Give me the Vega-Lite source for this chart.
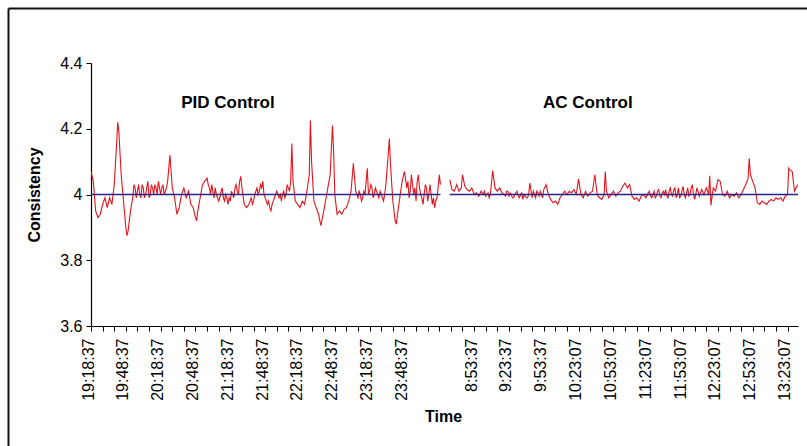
{
  "$schema": "https://vega.github.io/schema/vega-lite/v6.json",
  "width": 707,
  "height": 263,
  "autosize": {"type": "none"},
  "padding": {"left": 91, "top": 63, "right": 9, "bottom": 120},
  "background": "white",
  "config": {
    "view": {"stroke": null},
    "font": "Liberation Sans",
    "axis": {"domainColor": "#000", "tickColor": "#000", "labelColor": "#000", "titleColor": "#000", "grid": false, "labelFont": "Liberation Sans", "titleFont": "Liberation Sans"}
  },
  "datasets": {
    "series": [
      {"s":"PID","i":0,"v":4.07},{"s":"PID","i":2,"v":4.04},{"s":"PID","i":4,"v":3.95},{"s":"PID","i":6,"v":3.93},{"s":"PID","i":8,"v":3.94},{"s":"PID","i":10,"v":3.97},{"s":"PID","i":12,"v":3.99},{"s":"PID","i":14,"v":3.96},{"s":"PID","i":16,"v":3.99},{"s":"PID","i":18,"v":3.97},{"s":"PID","i":20,"v":4.03},{"s":"PID","i":22,"v":4.15},{"s":"PID","i":23,"v":4.22},{"s":"PID","i":24,"v":4.19},{"s":"PID","i":26,"v":4.06},{"s":"PID","i":28,"v":3.98},{"s":"PID","i":30,"v":3.9},{"s":"PID","i":31,"v":3.875},{"s":"PID","i":32,"v":3.89},{"s":"PID","i":34,"v":3.95},{"s":"PID","i":36,"v":3.99},{"s":"PID","i":38,"v":4.02},{"s":"PID","i":40,"v":4.01},{"s":"PID","i":42,"v":4.0},{"s":"PID","i":44,"v":4.03},{"s":"PID","i":46,"v":3.99},{"s":"PID","i":48,"v":4.02},{"s":"PID","i":50,"v":3.99},{"s":"PID","i":52,"v":4.03},{"s":"PID","i":54,"v":4.0},{"s":"PID","i":56,"v":4.02},{"s":"PID","i":58,"v":4.04},{"s":"PID","i":60,"v":4.0},{"s":"PID","i":62,"v":4.03},{"s":"PID","i":64,"v":4.01},{"s":"PID","i":66,"v":4.04},{"s":"PID","i":68,"v":4.12},{"s":"PID","i":70,"v":4.02},{"s":"PID","i":72,"v":3.99},{"s":"PID","i":74,"v":3.94},{"s":"PID","i":76,"v":3.96},{"s":"PID","i":78,"v":4.0},{"s":"PID","i":80,"v":4.02},{"s":"PID","i":82,"v":3.99},{"s":"PID","i":84,"v":4.01},{"s":"PID","i":86,"v":3.97},{"s":"PID","i":88,"v":3.96},{"s":"PID","i":90,"v":3.93},{"s":"PID","i":91,"v":3.92},{"s":"PID","i":92,"v":3.95},{"s":"PID","i":94,"v":3.99},{"s":"PID","i":96,"v":4.03},{"s":"PID","i":98,"v":4.04},{"s":"PID","i":100,"v":4.05},{"s":"PID","i":102,"v":4.02},{"s":"PID","i":104,"v":4.03},{"s":"PID","i":106,"v":3.99},{"s":"PID","i":108,"v":4.0},{"s":"PID","i":110,"v":3.98},{"s":"PID","i":112,"v":4.01},{"s":"PID","i":114,"v":3.99},{"s":"PID","i":116,"v":4.0},{"s":"PID","i":118,"v":3.97},{"s":"PID","i":120,"v":3.98},{"s":"PID","i":122,"v":4.0},{"s":"PID","i":124,"v":4.02},{"s":"PID","i":126,"v":4.01},{"s":"PID","i":128,"v":4.04},{"s":"PID","i":129,"v":4.055},{"s":"PID","i":130,"v":4.02},{"s":"PID","i":132,"v":3.97},{"s":"PID","i":134,"v":3.96},{"s":"PID","i":136,"v":3.97},{"s":"PID","i":138,"v":3.99},{"s":"PID","i":140,"v":3.98},{"s":"PID","i":142,"v":4.01},{"s":"PID","i":144,"v":4.0},{"s":"PID","i":146,"v":4.03},{"s":"PID","i":148,"v":4.04},{"s":"PID","i":150,"v":3.99},{"s":"PID","i":152,"v":3.97},{"s":"PID","i":154,"v":3.96},{"s":"PID","i":156,"v":3.97},{"s":"PID","i":158,"v":3.99},{"s":"PID","i":160,"v":4.01},{"s":"PID","i":162,"v":3.99},{"s":"PID","i":164,"v":3.98},{"s":"PID","i":166,"v":4.01},{"s":"PID","i":168,"v":4.0},{"s":"PID","i":170,"v":4.02},{"s":"PID","i":172,"v":4.04},{"s":"PID","i":173,"v":4.155},{"s":"PID","i":174,"v":4.04},{"s":"PID","i":176,"v":3.98},{"s":"PID","i":178,"v":3.97},{"s":"PID","i":180,"v":3.96},{"s":"PID","i":182,"v":3.98},{"s":"PID","i":184,"v":3.97},{"s":"PID","i":186,"v":4.01},{"s":"PID","i":188,"v":4.06},{"s":"PID","i":189,"v":4.225},{"s":"PID","i":190,"v":4.1},{"s":"PID","i":192,"v":3.98},{"s":"PID","i":194,"v":3.96},{"s":"PID","i":196,"v":3.94},{"s":"PID","i":198,"v":3.905},{"s":"PID","i":200,"v":3.94},{"s":"PID","i":202,"v":3.98},{"s":"PID","i":204,"v":4.02},{"s":"PID","i":206,"v":4.06},{"s":"PID","i":208,"v":4.21},{"s":"PID","i":209,"v":4.13},{"s":"PID","i":210,"v":4.0},{"s":"PID","i":212,"v":3.94},{"s":"PID","i":214,"v":3.95},{"s":"PID","i":216,"v":3.94},{"s":"PID","i":218,"v":3.955},{"s":"PID","i":220,"v":3.96},{"s":"PID","i":222,"v":3.98},{"s":"PID","i":224,"v":4.01},{"s":"PID","i":226,"v":4.095},{"s":"PID","i":228,"v":4.01},{"s":"PID","i":230,"v":3.99},{"s":"PID","i":232,"v":4.0},{"s":"PID","i":234,"v":3.99},{"s":"PID","i":236,"v":4.0},{"s":"PID","i":238,"v":4.08},{"s":"PID","i":240,"v":4.01},{"s":"PID","i":242,"v":4.02},{"s":"PID","i":244,"v":4.0},{"s":"PID","i":246,"v":4.01},{"s":"PID","i":248,"v":3.99},{"s":"PID","i":250,"v":4.0},{"s":"PID","i":252,"v":3.98},{"s":"PID","i":254,"v":4.03},{"s":"PID","i":256,"v":4.12},{"s":"PID","i":257,"v":4.17},{"s":"PID","i":258,"v":4.09},{"s":"PID","i":260,"v":3.98},{"s":"PID","i":262,"v":3.92},{"s":"PID","i":263,"v":3.91},{"s":"PID","i":264,"v":3.94},{"s":"PID","i":266,"v":3.99},{"s":"PID","i":268,"v":4.04},{"s":"PID","i":270,"v":4.07},{"s":"PID","i":272,"v":4.02},{"s":"PID","i":274,"v":3.99},{"s":"PID","i":276,"v":4.06},{"s":"PID","i":278,"v":4.0},{"s":"PID","i":280,"v":3.98},{"s":"PID","i":282,"v":4.06},{"s":"PID","i":284,"v":4.0},{"s":"PID","i":286,"v":3.97},{"s":"PID","i":288,"v":4.03},{"s":"PID","i":290,"v":3.98},{"s":"PID","i":292,"v":4.03},{"s":"PID","i":294,"v":3.97},{"s":"PID","i":296,"v":3.96},{"s":"PID","i":298,"v":3.99},{"s":"PID","i":300,"v":4.06},{"s":"PID","i":301,"v":4.03},
      {"s":"PID","i":37,"v":4.03},{"s":"PID","i":39,"v":3.99},{"s":"PID","i":41,"v":4.03},{"s":"PID","i":43,"v":3.99},{"s":"PID","i":45,"v":4.02},{"s":"PID","i":47,"v":4.0},{"s":"PID","i":49,"v":4.04},{"s":"PID","i":51,"v":4.0},{"s":"PID","i":53,"v":4.02},{"s":"PID","i":55,"v":4.03},{"s":"PID","i":57,"v":4.0},{"s":"PID","i":59,"v":4.02},{"s":"PID","i":61,"v":4.02},{"s":"PID","i":63,"v":4.0},{"s":"PID","i":65,"v":4.02},
      {"s":"PID","i":101,"v":4.03},{"s":"PID","i":103,"v":4.0},{"s":"PID","i":105,"v":4.01},{"s":"PID","i":107,"v":4.02},{"s":"PID","i":109,"v":3.99},{"s":"PID","i":111,"v":3.99},{"s":"PID","i":113,"v":4.02},{"s":"PID","i":115,"v":3.98},{"s":"PID","i":117,"v":3.99},{"s":"PID","i":119,"v":3.99},{"s":"PID","i":121,"v":4.01},{"s":"PID","i":123,"v":3.99},{"s":"PID","i":125,"v":4.03},{"s":"PID","i":127,"v":4.0},
      {"s":"PID","i":139,"v":3.97},{"s":"PID","i":141,"v":4.0},{"s":"PID","i":143,"v":4.02},{"s":"PID","i":145,"v":4.01},{"s":"PID","i":147,"v":4.02},{"s":"PID","i":149,"v":4.0},{"s":"PID","i":151,"v":3.98},{"s":"PID","i":153,"v":3.98},{"s":"PID","i":155,"v":3.95},{"s":"PID","i":157,"v":3.98},{"s":"PID","i":159,"v":4.0},{"s":"PID","i":161,"v":4.0},{"s":"PID","i":163,"v":4.0},{"s":"PID","i":165,"v":4.0},{"s":"PID","i":167,"v":3.99},{"s":"PID","i":169,"v":4.03},{"s":"PID","i":171,"v":4.01},
      {"s":"PID","i":229,"v":4.0},{"s":"PID","i":231,"v":4.01},{"s":"PID","i":233,"v":3.98},{"s":"PID","i":235,"v":4.01},{"s":"PID","i":239,"v":4.0},{"s":"PID","i":241,"v":4.03},{"s":"PID","i":243,"v":3.99},{"s":"PID","i":245,"v":4.02},{"s":"PID","i":247,"v":4.0},{"s":"PID","i":249,"v":4.01},{"s":"PID","i":251,"v":3.99},{"s":"PID","i":253,"v":4.0},
      {"s":"PID","i":273,"v":4.04},{"s":"PID","i":275,"v":4.01},{"s":"PID","i":277,"v":4.03},{"s":"PID","i":279,"v":4.02},{"s":"PID","i":281,"v":4.04},{"s":"PID","i":283,"v":4.02},{"s":"PID","i":285,"v":3.99},{"s":"PID","i":287,"v":4.0},{"s":"PID","i":289,"v":4.02},{"s":"PID","i":291,"v":4.0},{"s":"PID","i":293,"v":4.0},{"s":"PID","i":295,"v":3.99},{"s":"PID","i":297,"v":3.98},{"s":"PID","i":299,"v":4.02},
      {"s":"AC","i":309,"v":4.045},{"s":"AC","i":311,"v":4.015},{"s":"AC","i":313,"v":4.01},{"s":"AC","i":315,"v":4.03},{"s":"AC","i":317,"v":4.01},{"s":"AC","i":319,"v":4.02},{"s":"AC","i":320,"v":4.06},{"s":"AC","i":322,"v":4.025},{"s":"AC","i":324,"v":4.015},{"s":"AC","i":326,"v":4.01},{"s":"AC","i":328,"v":4.02},{"s":"AC","i":330,"v":4.0},{"s":"AC","i":332,"v":4.005},{"s":"AC","i":334,"v":3.995},{"s":"AC","i":336,"v":4.01},{"s":"AC","i":338,"v":4.0},{"s":"AC","i":340,"v":3.995},{"s":"AC","i":342,"v":4.005},{"s":"AC","i":344,"v":4.0},{"s":"AC","i":346,"v":4.073},{"s":"AC","i":348,"v":4.02},{"s":"AC","i":350,"v":4.01},{"s":"AC","i":352,"v":4.02},{"s":"AC","i":354,"v":4.005},{"s":"AC","i":356,"v":4.0},{"s":"AC","i":358,"v":4.01},{"s":"AC","i":360,"v":3.995},{"s":"AC","i":362,"v":4.0},{"s":"AC","i":364,"v":3.99},{"s":"AC","i":366,"v":4.005},{"s":"AC","i":368,"v":3.995},{"s":"AC","i":370,"v":4.0},{"s":"AC","i":372,"v":3.985},{"s":"AC","i":374,"v":3.995},{"s":"AC","i":376,"v":3.99},{"s":"AC","i":378,"v":4.035},{"s":"AC","i":380,"v":3.99},{"s":"AC","i":382,"v":4.0},{"s":"AC","i":384,"v":4.01},{"s":"AC","i":386,"v":3.995},{"s":"AC","i":388,"v":4.0},{"s":"AC","i":390,"v":4.015},{"s":"AC","i":392,"v":4.03},{"s":"AC","i":394,"v":4.0},{"s":"AC","i":396,"v":3.985},{"s":"AC","i":398,"v":3.975},{"s":"AC","i":400,"v":3.98},{"s":"AC","i":402,"v":3.97},{"s":"AC","i":404,"v":3.99},{"s":"AC","i":406,"v":4.0},{"s":"AC","i":408,"v":4.01},{"s":"AC","i":410,"v":4.0},{"s":"AC","i":412,"v":4.01},{"s":"AC","i":414,"v":4.005},{"s":"AC","i":416,"v":4.015},{"s":"AC","i":418,"v":4.0},{"s":"AC","i":420,"v":4.047},{"s":"AC","i":422,"v":4.0},{"s":"AC","i":424,"v":3.99},{"s":"AC","i":426,"v":4.01},{"s":"AC","i":428,"v":3.995},{"s":"AC","i":430,"v":4.005},{"s":"AC","i":432,"v":4.01},{"s":"AC","i":434,"v":4.06},{"s":"AC","i":436,"v":4.0},{"s":"AC","i":438,"v":3.99},{"s":"AC","i":440,"v":3.985},{"s":"AC","i":442,"v":4.0},{"s":"AC","i":443,"v":4.07},{"s":"AC","i":444,"v":4.01},{"s":"AC","i":446,"v":3.99},{"s":"AC","i":448,"v":4.0},{"s":"AC","i":450,"v":4.01},{"s":"AC","i":452,"v":3.995},{"s":"AC","i":454,"v":4.005},{"s":"AC","i":456,"v":4.01},{"s":"AC","i":458,"v":4.025},{"s":"AC","i":460,"v":4.035},{"s":"AC","i":462,"v":4.02},{"s":"AC","i":464,"v":4.03},{"s":"AC","i":466,"v":3.995},{"s":"AC","i":468,"v":3.985},{"s":"AC","i":470,"v":3.99},{"s":"AC","i":472,"v":3.98},{"s":"AC","i":474,"v":3.995},{"s":"AC","i":476,"v":4.0},{"s":"AC","i":478,"v":3.99},{"s":"AC","i":480,"v":4.005},{"s":"AC","i":482,"v":3.995},{"s":"AC","i":484,"v":4.0},{"s":"AC","i":486,"v":3.99},{"s":"AC","i":488,"v":4.01},{"s":"AC","i":490,"v":3.995},{"s":"AC","i":492,"v":4.005},{"s":"AC","i":494,"v":4.0},{"s":"AC","i":496,"v":3.995},{"s":"AC","i":498,"v":4.01},{"s":"AC","i":500,"v":4.0},{"s":"AC","i":502,"v":4.015},{"s":"AC","i":504,"v":3.99},{"s":"AC","i":506,"v":4.02},{"s":"AC","i":508,"v":3.995},{"s":"AC","i":510,"v":4.025},{"s":"AC","i":512,"v":3.99},{"s":"AC","i":514,"v":4.02},{"s":"AC","i":516,"v":4.0},{"s":"AC","i":518,"v":4.03},{"s":"AC","i":520,"v":3.985},{"s":"AC","i":522,"v":4.02},{"s":"AC","i":524,"v":3.995},{"s":"AC","i":526,"v":4.015},{"s":"AC","i":528,"v":4.0},{"s":"AC","i":530,"v":4.02},{"s":"AC","i":532,"v":4.0},{"s":"AC","i":533,"v":4.057},{"s":"AC","i":534,"v":3.967},{"s":"AC","i":536,"v":4.02},{"s":"AC","i":538,"v":4.01},{"s":"AC","i":540,"v":4.045},{"s":"AC","i":542,"v":4.04},{"s":"AC","i":544,"v":4.0},{"s":"AC","i":546,"v":3.995},{"s":"AC","i":548,"v":4.01},{"s":"AC","i":550,"v":3.99},{"s":"AC","i":552,"v":4.0},{"s":"AC","i":554,"v":3.995},{"s":"AC","i":556,"v":4.005},{"s":"AC","i":558,"v":3.99},{"s":"AC","i":560,"v":4.0},{"s":"AC","i":562,"v":4.015},{"s":"AC","i":564,"v":4.03},{"s":"AC","i":566,"v":4.05},{"s":"AC","i":567,"v":4.11},{"s":"AC","i":568,"v":4.06},{"s":"AC","i":570,"v":4.04},{"s":"AC","i":572,"v":4.02},{"s":"AC","i":574,"v":3.975},{"s":"AC","i":576,"v":3.97},{"s":"AC","i":578,"v":3.98},{"s":"AC","i":580,"v":3.975},{"s":"AC","i":582,"v":3.97},{"s":"AC","i":584,"v":3.98},{"s":"AC","i":586,"v":3.985},{"s":"AC","i":588,"v":3.98},{"s":"AC","i":590,"v":3.99},{"s":"AC","i":592,"v":3.985},{"s":"AC","i":594,"v":3.99},{"s":"AC","i":596,"v":3.98},{"s":"AC","i":598,"v":3.995},{"s":"AC","i":600,"v":4.0},{"s":"AC","i":601,"v":4.08},{"s":"AC","i":602,"v":4.075},{"s":"AC","i":604,"v":4.07},{"s":"AC","i":606,"v":4.01},{"s":"AC","i":608,"v":4.025},{"s":"AC","i":609,"v":4.03},
      {"s":"AC","i":339,"v":4.01},{"s":"AC","i":341,"v":4.0},{"s":"AC","i":343,"v":3.99},{"s":"AC","i":357,"v":3.995},{"s":"AC","i":359,"v":4.01},{"s":"AC","i":361,"v":4.005},{"s":"AC","i":363,"v":3.99},{"s":"AC","i":365,"v":4.0},{"s":"AC","i":367,"v":4.01},{"s":"AC","i":369,"v":3.99},{"s":"AC","i":371,"v":4.005},{"s":"AC","i":373,"v":4.0},{"s":"AC","i":375,"v":3.99},{"s":"AC","i":377,"v":4.0},{"s":"AC","i":381,"v":4.01},{"s":"AC","i":383,"v":3.99},{"s":"AC","i":385,"v":4.005},{"s":"AC","i":387,"v":4.01},{"s":"AC","i":389,"v":3.99},
      {"s":"AC","i":481,"v":4.01},{"s":"AC","i":483,"v":3.99},{"s":"AC","i":485,"v":4.01},{"s":"AC","i":487,"v":3.995},{"s":"AC","i":489,"v":4.015},{"s":"AC","i":491,"v":3.99},{"s":"AC","i":493,"v":4.01},{"s":"AC","i":495,"v":4.015},{"s":"AC","i":497,"v":3.99},{"s":"AC","i":499,"v":4.02},{"s":"AC","i":501,"v":3.995},{"s":"AC","i":503,"v":4.02},{"s":"AC","i":505,"v":4.0},{"s":"AC","i":507,"v":3.99},{"s":"AC","i":509,"v":4.01},{"s":"AC","i":511,"v":4.0},{"s":"AC","i":513,"v":4.005},{"s":"AC","i":515,"v":3.995},{"s":"AC","i":517,"v":4.02},{"s":"AC","i":519,"v":4.0}
    ],
    "setpoint": [
      {"s":"PID","i":0,"v":4},{"s":"PID","i":301,"v":4},
      {"s":"AC","i":309,"v":4},{"s":"AC","i":609,"v":4}
    ]
  },
  "resolve": {"axis": {"x": "independent", "y": "independent"}},
  "layer": [
    {
      "data": {"name": "series"},
      "mark": {"type": "line", "color": "#e5141c", "strokeWidth": 1.1, "clip": true},
      "encoding": {
        "x": {"field": "i", "type": "quantitative",
          "scale": {"domain": [0, 609], "nice": false, "zero": false},
          "axis": {"orient": "bottom", "values": [0,10,20,30,40,50,60,70,80,90,100,110,120,130,140,150,160,170,180,190,200,210,220,230,240,250,260,270,280,290,300,310,320,330,340,350,360,370,380,390,400,410,420,430,440,450,460,470,480,490,500,510,520,530,540,550,560,570,580,590,600],
            "labelExpr": "datum.value % 30 == 0 ? ['19:18:37','19:48:37','20:18:37','20:48:37','21:18:37','21:48:37','22:18:37','22:48:37','23:18:37','23:48:37','','8:53:37','9:23:37','9:53:37','10:23:07','10:53:07','11:23:07','11:53:07','12:23:07','12:53:07','13:23:07'][round(datum.value/30)] : ''",
            "labelAngle": -90, "labelFontSize": 16, "labelPadding": 7, "labelOffset": -3, "labelOverlap": false, "labelBound": false,
            "tickSize": 5, "domainWidth": 1.2,
            "title": "Time", "titleFontSize": 16, "titleFontWeight": "bold", "titleX": 352, "titleY": 90, "titleAlign": "center", "titleBaseline": "middle"}},
        "y": {"field": "v", "type": "quantitative",
          "scale": {"domain": [3.6, 4.4], "nice": false, "zero": false},
          "axis": {"orient": "left", "values": [3.6, 3.8, 4, 4.2, 4.4], "format": "~g", "labelFontSize": 16, "labelPadding": 4, "tickSize": 5, "domainWidth": 1.2,
            "title": "Consistency", "titleFontSize": 16, "titleFontWeight": "bold", "titleAngle": -90, "titleX": -57, "titleY": 131.5, "titleAlign": "center", "titleBaseline": "middle"}},
        "detail": {"field": "s", "type": "nominal"}
      }
    },
    {
      "data": {"name": "setpoint"},
      "mark": {"type": "line", "color": "#26238a", "strokeWidth": 1.5},
      "encoding": {
        "x": {"field": "i", "type": "quantitative",
          "axis": {"orient": "top", "offset": -397, "values": [0], "tickOffset": -83, "tickSize": 452, "tickWidth": 2, "tickColor": "#111", "domain": false, "labels": false, "title": null}},
        "y": {"field": "v", "type": "quantitative",
          "axis": {"orient": "right", "offset": -790, "values": [4.4], "tickOffset": -55, "tickSize": 820, "tickWidth": 2, "tickColor": "#111", "domain": false, "labels": false, "title": null}},
        "detail": {"field": "s", "type": "nominal"}
      }
    },
    {
      "data": {"values": [{}]},
      "mark": {"type": "text", "text": "PID Control", "font": "Liberation Sans", "fontSize": 17, "fontWeight": "bold", "color": "#000", "align": "center", "baseline": "middle"},
      "encoding": {
        "x": {"datum": 118, "type": "quantitative", "axis": null},
        "y": {"datum": 4.278, "type": "quantitative", "axis": null}
      }
    },
    {
      "data": {"values": [{}]},
      "mark": {"type": "text", "text": "AC Control", "font": "Liberation Sans", "fontSize": 17, "fontWeight": "bold", "color": "#000", "align": "center", "baseline": "middle"},
      "encoding": {
        "x": {"datum": 428, "type": "quantitative", "axis": null},
        "y": {"datum": 4.278, "type": "quantitative", "axis": null}
      }
    }
  ]
}
